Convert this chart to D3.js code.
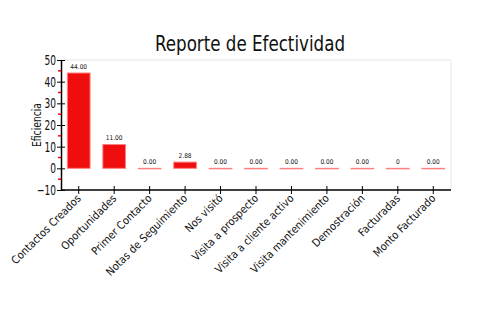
<!DOCTYPE html>
<html><head><meta charset="utf-8">
<script src="https://cdn.jsdelivr.net/npm/d3@7"></script>
<style>body{margin:0;background:#fff}svg{display:block}text{font-family:"DejaVu Sans Condensed","DejaVu Sans",sans-serif}</style>
</head><body>
<svg id="c" width="500" height="330"></svg>
<script>
const categories = ["Contactos Creados","Oportunidades","Primer Contacto","Notas de Seguimiento","Nos visitó","Visita a prospecto","Visita a cliente activo","Visita mantenimiento","Demostración","Facturadas","Monto Facturado"];
const values = [44, 11, 0, 2.88, 0, 0, 0, 0, 0, 0, 0];
const valueLabels = ["44.00","11.00","0.00","2.88","0.00","0.00","0.00","0.00","0.00","0","0.00"];
const yTicks = [-10, 0, 10, 20, 30, 40, 50];
const yMinorTicks = [-5, 5, 15, 25, 35, 45];
const title = "Reporte de Efectividad";
const yTitle = "Eficiencia";

(function(){
const svg = d3.select("#c");
const mL = 61, mR = 451, mT = 60, mB = 190;
const x = d3.scaleBand().domain(categories).range([mL, mR]).paddingInner(0.36).paddingOuter(0.18);
const y = d3.scaleLinear().domain([-10, 50]).range([mB, mT]);

// frame
svg.append("path").attr("d", `M${mL},${mT}H${mR}V${mB}`).attr("fill","none").attr("stroke","#e6e6e6");

// bars
svg.append("g").selectAll("rect").data(values).join("rect")
  .attr("x", (d,i) => x(categories[i]))
  .attr("width", x.bandwidth())
  .attr("y", d => y(Math.max(d,0)))
  .attr("height", d => Math.max(Math.abs(y(d) - y(0)), 0.5))
  .attr("fill", "#f00d0d")
  .attr("stroke", "#ff8080").attr("stroke-width", 1);

// value labels
svg.append("g").selectAll("text").data(values).join("text")
  .attr("x", (d,i) => x(categories[i]) + x.bandwidth()/2)
  .attr("y", d => y(Math.max(d,0)) - 4.5)
  .attr("text-anchor","middle").attr("font-size", 6.5).attr("fill","#111")
  .text((d,i) => valueLabels[i]);

// y axis
const ya = svg.append("g").attr("transform", `translate(${mL},0)`)
  .call(d3.axisLeft(y).tickValues(yTicks).tickSize(4).tickSizeOuter(0).tickFormat(d3.format("d")));
ya.select(".domain").attr("stroke","#000").attr("stroke-width",1.5);
ya.selectAll(".tick line").attr("x1", 4).attr("x2", -4).attr("stroke","#000");
ya.selectAll(".tick text").attr("x", -5/0.72).attr("font-size", 14).attr("fill","#111")
  .attr("transform","scale(0.72,1)");
svg.append("g").selectAll("line").data(yMinorTicks).join("line")
  .attr("x1", mL - 3).attr("x2", mL).attr("y1", d => y(d)).attr("y2", d => y(d))
  .attr("stroke", "#f00").attr("stroke-width", 1.5);

// x axis
const xa = svg.append("g").attr("transform", `translate(0,${mB})`)
  .call(d3.axisBottom(x).tickSize(4).tickSizeOuter(0));
xa.select(".domain").attr("stroke","#000").attr("stroke-width",1.5).attr("d", `M${mL},0H${mR}`);
xa.selectAll(".tick line").attr("y1", -4).attr("y2", 4).attr("stroke","#000");
xa.selectAll(".tick text").attr("font-size", 11).attr("fill","#111")
  .attr("text-anchor","end").attr("dy", 0).attr("x", 0).attr("y", 0)
  .attr("transform", "translate(3,9) rotate(-45)");

// titles
svg.append("text").attr("x", 250).attr("y", 51).attr("text-anchor","middle")
  .attr("font-size", 22).attr("fill","#111")
  .attr("textLength", 190).attr("lengthAdjust","spacingAndGlyphs").text(title);
svg.append("text").attr("transform", `translate(41,125) rotate(-90)`).attr("text-anchor","middle")
  .attr("font-size", 12).attr("fill","#111")
  .attr("textLength", 44).attr("lengthAdjust","spacingAndGlyphs").text(yTitle);
})();
</script>
</body></html>
